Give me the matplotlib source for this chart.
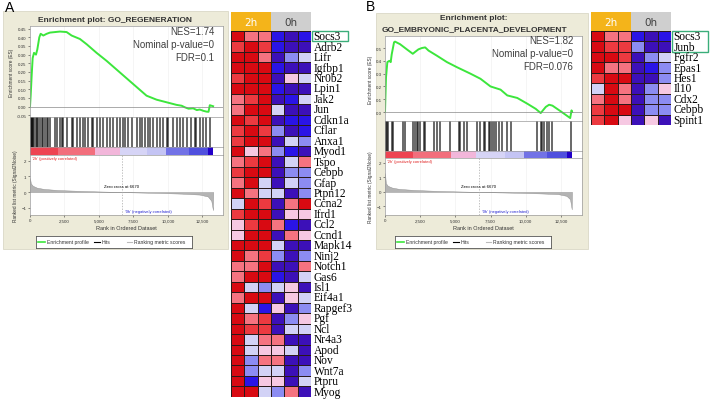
import matplotlib
matplotlib.use("Agg")
import matplotlib.pyplot as plt
import numpy as np
from matplotlib.colors import ListedColormap, BoundaryNorm
from matplotlib.patches import Rectangle

W, H = 715, 402

# ---- data ----
rank_ticks = [0, 2500, 5000, 7500, 10000, 12500]
rank_labels = ["0", "2,500", "5,000", "7,500", "10,000", "12,500"]

es_a_rank = [0, 48, 121, 193, 290, 435, 531, 676, 773, 966, 1208, 1449, 1812, 2174, 2657,
             3019, 3623, 4106, 4831, 5555, 6521, 7487, 8454, 9179, 9903, 10628, 11000,
             11232, 11500, 11836, 12100, 12319, 12600, 12802, 12950, 13043, 13285]
es_a_val = [0, 0.063, 0.18, 0.28, 0.31, 0.30, 0.33, 0.40, 0.42, 0.41, 0.42, 0.427, 0.43,
            0.433, 0.43, 0.41, 0.39, 0.36, 0.31, 0.264, 0.197, 0.13, 0.063, 0.04, 0.025,
            0.01, 0.005, -0.004, -0.012, -0.01, -0.02, -0.017, -0.025, -0.029, -0.03,
            0.008, 0.002]

es_b_rank = [0, 71, 167, 309, 405, 476, 643, 714, 1071, 1547, 1975, 2142, 2380, 2618, 2856,
             3094, 3689, 4403, 5117, 6069, 6783, 7497, 8211, 8687, 9401, 10115, 10710,
             11067, 11424, 11662, 11900, 12495, 13161, 13256, 13300]
es_b_val = [0, 0.27, 0.39, 0.40, 0.39, 0.45, 0.545, 0.55, 0.53, 0.49, 0.455, 0.47, 0.49,
            0.5, 0.505, 0.48, 0.44, 0.39, 0.35, 0.30, 0.26, 0.20, 0.175, 0.13, 0.11, 0.065,
            0.025, -0.008, 0.04, 0.057, 0.05, 0.005, -0.047, 0.013, 0.0]

hits_a = [20, 60, 121, 180, 242, 320, 435, 520, 604, 725, 845, 960, 1087, 1208, 1329, 1450,
          1812, 1933, 2174, 2295, 2416, 2657, 3020, 3141, 3382, 3624, 3865, 3986, 4227,
          4469, 4590, 4831, 5073, 5314, 5556, 5797, 6039, 6280, 6522, 6763, 6884, 7126,
          7367, 7729, 7971, 8092, 8333, 8575, 8696, 8937, 9179, 9420, 9662, 9903, 10024,
          10386, 10628, 10870, 11111, 11353, 11715, 11957, 12077, 12319, 12560, 12802, 13043]
hits_b = [10, 60, 119, 238, 476, 595, 1309, 1428, 2023, 2142, 2261, 2380, 2499, 2737, 2856,
          3451, 3689, 3927, 4641, 5236, 5355, 5593, 5831, 6545, 6783, 7021, 7140, 7378,
          7497, 7616, 7735, 7854, 8092, 8330, 8687, 8925, 10829, 11067, 11186, 11305,
          11543, 11662, 11900, 13209]

metric_rank = [0, 60, 200, 500, 1000, 2000, 3500, 5000, 6670, 8000, 9500, 11000, 12300,
               12900, 13150, 13270, 13290]
metric_a = [0.9, 0.55, 0.4, 0.28, 0.2, 0.13, 0.08, 0.04, 0.0, -0.03, -0.06, -0.1, -0.16,
            -0.28, -0.55, -1.15, 0]
metric_b = [1.3, 0.6, 0.42, 0.3, 0.21, 0.14, 0.08, 0.04, 0.0, -0.03, -0.06, -0.1, -0.15,
            -0.27, -0.5, -1.2, 0]

strip_edges = [0, 2000, 4700, 6500, 8500, 9900, 11500, 12900, 13300]
strip_colors = ["#EE4452", "#F26E7C", "#F2B6DA", "#D6D4F6", "#C4C4F4", "#7272E6",
                "#5050DE", "#2200C8"]

genes_a = ["Socs3", "Adrb2", "Lifr", "Igfbp1", "Nr0b2", "Lpin1", "Jak2", "Jun", "Cdkn1a",
           "Cflar", "Anxa1", "Myod1", "Tspo", "Cebpb", "Gfap", "Ptpn12", "Ccna2", "Ifrd1",
           "Ccl2", "Ccnd1", "Mapk14", "Ninj2", "Notch1", "Gas6", "Isl1", "Eif4a1",
           "Rapgef3", "Pgf", "Ncl", "Nr4a3", "Apod", "Nov", "Wnt7a", "Ptpru", "Myog"]
heat_a = [
    [4, 2, 2, -3, -4, -3], [3, 4, 3, -3, -4, -4], [4, 4, 2, -4, -2, -1],
    [4, 4, 4, -3, -4, -4], [3, 4, 4, -4, 1, -1], [4, 4, 4, -3, -4, -4],
    [2, 3, 4, -4, -3, -1], [2, 4, 4, -1, -4, -4], [4, 3, 4, -4, -3, -3],
    [3, 4, 3, -2, -4, -3], [3, 4, 4, -4, -1, -2], [4, 1, 2, -2, -3, -4],
    [2, 3, 4, -4, -1, 2], [3, 4, 4, -4, -2, -2], [2, 4, -1, -4, -1, -2],
    [4, 2, -1, -1, -4, -2], [-1, 4, 3, -4, 2, 4], [3, 4, 4, -4, 1, 1],
    [1, 3, 4, 2, -3, -4], [1, 4, 4, -4, 2, 1], [4, 4, 4, -1, -4, -4],
    [4, 2, 3, -2, -4, -2], [2, 2, 4, -4, -4, 2], [2, 4, 4, -3, -4, -1],
    [4, -1, -2, -1, 1, -4], [2, 4, 4, -4, 1, -1], [4, -1, -3, 1, -4, -2],
    [4, 2, 3, -4, -2, 1], [4, 3, 3, -4, -1, -1], [4, -1, 2, 2, -4, -4],
    [4, -1, 1, 1, -1, -4], [4, -2, 2, 2, -4, -4], [4, -2, -1, -1, -4, -2],
    [4, -3, 1, 1, -4, -1], [4, 4, -1, -2, 2, -4]]

genes_b = ["Socs3", "Junb", "Fgfr2", "Epas1", "Hes1", "Il10", "Cdx2", "Cebpb", "Spint1"]
heat_b = [
    [4, 2, 2, -3, -4, -3], [4, 3, 3, -2, -4, -4], [4, 4, 3, -4, -2, -1],
    [4, 2, 2, -4, -3, -2], [3, 4, 4, -4, -4, -2], [-1, 4, 2, -4, -2, 1],
    [2, 4, 2, -4, -2, -2], [3, 4, 4, -4, -2, -2], [3, 4, 1, -4, 1, -4]]

heat_colors = ["#3C10B8", "#2A14E6", "#8C8CF2", "#D2D2F6",
               "#F6C8E2", "#F57380", "#EC3A40", "#D80A12"]
heat_bounds = [-4.5, -3.5, -2.5, -1.5, 0, 1.5, 2.5, 3.5, 4.5]

SANS = "Liberation Sans"

fig = plt.figure(figsize=(W / 100, H / 100), dpi=100)
fig.patch.set_facecolor("white")


def px_axes(x0, y0, x1, y1, **kw):
    return fig.add_axes([x0 / W, 1 - y1 / H, (x1 - x0) / W, (y1 - y0) / H], **kw)


def frame(ax):
    for s in ax.spines.values():
        s.set_color("#9A9A9A")
        s.set_linewidth(0.5)
    ax.tick_params(length=1.5, width=0.4, labelsize=3.2, pad=1, colors="#333333")
    for lab in ax.get_xticklabels() + ax.get_yticklabels():
        lab.set_family(SANS)


def gsea(x0, x1, y_es, y_hits, y_strip, y_rank, y_bot, es_rank, es_val, hits, metric,
         es_lim, es_ticks, es_fmt, rank_lim, stats):
    xmax = 14000
    ax = px_axes(x0, y_es, x1, y_hits)
    ax.plot(es_rank, es_val, color="#3CE63C", lw=1.4)
    ax.axhline(0, color="#888888", lw=0.5)
    for t in rank_ticks[1:]:
        ax.axvline(t, color="#EEEEEE", lw=0.4, zorder=0)
    ax.set_xlim(0, xmax)
    ax.set_ylim(*es_lim)
    ax.set_xticks([])
    ax.set_yticks(es_ticks)
    ax.set_yticklabels([es_fmt % v for v in es_ticks])
    ax.set_ylabel("Enrichment score (ES)", fontsize=3.4, labelpad=2, color="#333333",
                  family=SANS)
    frame(ax)
    ax.text(0.955, 0.80, "NES=%s\nNominal p-value=0\nFDR=%s" % stats, transform=ax.transAxes,
            ha="right", va="center", fontsize=7, family=SANS,
            color="#404040", linespacing=1.35)

    axh = px_axes(x0, y_hits, x1, y_strip)
    axh.vlines(hits, 0, 1, color="black", lw=1.1, alpha=0.75)
    axh.set_xlim(0, xmax)
    axh.set_ylim(0, 1)
    axh.set_xticks([])
    axh.set_yticks([])
    frame(axh)

    axs = px_axes(x0, y_strip, x1, y_rank)
    for i, c in enumerate(strip_colors):
        axs.axvspan(strip_edges[i], strip_edges[i + 1], color=c, lw=0)
    axs.set_xlim(0, xmax)
    axs.set_xticks([])
    axs.set_yticks([])
    frame(axs)

    axr = px_axes(x0, y_rank, x1, y_bot)
    axr.fill_between(metric_rank, metric, 0, color="#B4B4B4", lw=0.3, edgecolor="#8C8C8C")
    axr.axvline(6670, color="#A8A8A8", lw=0.5, ls=(0, (2, 2)))
    for t in rank_ticks[1:]:
        axr.axvline(t, color="#EEEEEE", lw=0.4, zorder=0)
    axr.set_xlim(0, xmax)
    axr.set_ylim(*rank_lim)
    axr.set_xticks(rank_ticks)
    axr.set_xticklabels(rank_labels)
    axr.set_yticks([-1, 0, 1, 2])
    axr.set_xlabel("Rank in Ordered Dataset", fontsize=4, labelpad=1.5, color="#333333",
                   family=SANS)
    axr.set_ylabel("Ranked list metric (Signal2Noise)", fontsize=3.4, labelpad=2.5,
                   color="#333333", family=SANS)
    frame(axr)
    axr.text(150, rank_lim[1] - 0.08, "'2h' (positively correlated)", fontsize=2.9,
             color="#E02020", va="top", family=SANS)
    axr.text(6670, 0.4, "Zero cross at 6670", fontsize=3.1, ha="center", va="center",
             family=SANS)
    axr.text(6900, rank_lim[0] + 0.12, "'0h' (negatively correlated)", fontsize=2.9,
             color="#2020D0", va="bottom", family=SANS)


def legend_box(x0, y0):
    axl = px_axes(x0, y0, x0 + 156, y0 + 12)
    axl.set_xlim(0, 156)
    axl.set_ylim(0, 1)
    axl.set_xticks([])
    axl.set_yticks([])
    for s in axl.spines.values():
        s.set_color("#555555")
        s.set_linewidth(0.6)
    axl.plot([2, 9], [0.5, 0.5], color="#3CE63C", lw=1.2)
    axl.text(11, 0.5, "Enrichment profile", fontsize=3.7, va="center", color="#333333",
             family=SANS)
    axl.plot([58, 64], [0.5, 0.5], color="black", lw=0.8)
    axl.text(66, 0.5, "Hits", fontsize=3.7, va="center", color="#333333", family=SANS)
    axl.plot([91, 96], [0.5, 0.5], color="#BBBBBB", lw=0.8)
    axl.text(98, 0.5, "Ranking metric scores", fontsize=3.7, va="center", color="#333333",
             family=SANS)


def heatmap(x0, y0, genes, data, box_rows):
    rh = 10.45
    n = len(genes)
    ax = px_axes(x0, y0, x0 + 80, y0 + n * rh)
    cmap = ListedColormap(heat_colors)
    norm = BoundaryNorm(heat_bounds, cmap.N)
    ax.pcolormesh(np.array(data), cmap=cmap, norm=norm, edgecolors="#2A1A1A", linewidth=0.6)
    ax.set_xlim(0, 6)
    ax.set_ylim(n, 0)
    ax.set_xticks([])
    ax.set_yticks([])
    for s in ax.spines.values():
        s.set_visible(False)
    for i, g in enumerate(genes):
        ax.text(6.2, i + 0.5, g, fontsize=8.3, family="Liberation Serif", va="center",
                ha="left", clip_on=False)
    ax.add_patch(Rectangle((6.1, 0.02), 2.7, box_rows - 0.04, fill=False,
                           edgecolor="#3AAE7A", lw=1.0, clip_on=False))
    axh = px_axes(x0, y0 - 19, x0 + 80, y0)
    axh.add_patch(Rectangle((0, 0), 3, 1, color="#F4B41A", lw=0))
    axh.add_patch(Rectangle((3, 0), 3, 1, color="#CFCFCF", lw=0))
    axh.text(1.5, 0.5, "2h", ha="center", va="center", color="white", fontsize=7.5)
    axh.text(4.5, 0.5, "0h", ha="center", va="center", color="#404040", fontsize=7.5)
    axh.set_xlim(0, 6)
    axh.set_ylim(0, 1)
    axh.axis("off")


# beige panels
for (bx0, by0, bx1, by1) in [(3, 12, 228, 250), (376, 14, 588, 250)]:
    fig.add_artist(Rectangle((bx0 / W, 1 - by1 / H), (bx1 - bx0) / W, (by1 - by0) / H,
                             transform=fig.transFigure, facecolor="#EDEBD9",
                             edgecolor="#DAD8C6", lw=0.6, zorder=-1))

gsea(30, 223, 27, 118, 148, 156, 216, es_a_rank, es_a_val, hits_a, metric_a,
     (-0.06, 0.465), [-0.05, 0, 0.05, 0.1, 0.15, 0.2, 0.25, 0.3, 0.35, 0.4, 0.45], "%.2f",
     (-1.46, 2.36), ("1.74", "0.1"))
gsea(385, 582, 37, 122, 152, 159, 216, es_b_rank, es_b_val, hits_b, metric_b,
     (-0.07, 0.594), [0, 0.1, 0.2, 0.3, 0.4, 0.5], "%.1f",
     (-1.59, 2.34), ("1.82", "0.076"))
legend_box(36, 237)
legend_box(395, 237)

fig.text(115 / W, 1 - 20 / H, "Enrichment plot: GO_REGENERATION", ha="center",
         va="center", fontsize=6, weight="bold", color="#333333", family=SANS)
fig.text(474 / W, 1 - 19 / H, "Enrichment plot:", ha="center", va="center", fontsize=6,
         weight="bold", color="#333333", family=SANS)
fig.text(474 / W, 1 - 30 / H, "GO_EMBRYONIC_PLACENTA_DEVELOPMENT", ha="center",
         va="center", fontsize=6, weight="bold", color="#333333", family=SANS)
fig.text(5 / W, 1 - 8 / H, "A", fontsize=10, va="center", ha="left", family=SANS)
fig.text(366 / W, 1 - 7 / H, "B", fontsize=10, va="center", ha="left", family=SANS)

heatmap(231, 32, genes_a, heat_a, 1)
heatmap(591, 32, genes_b, heat_b, 2)

fig.savefig("out.png", dpi=100)
